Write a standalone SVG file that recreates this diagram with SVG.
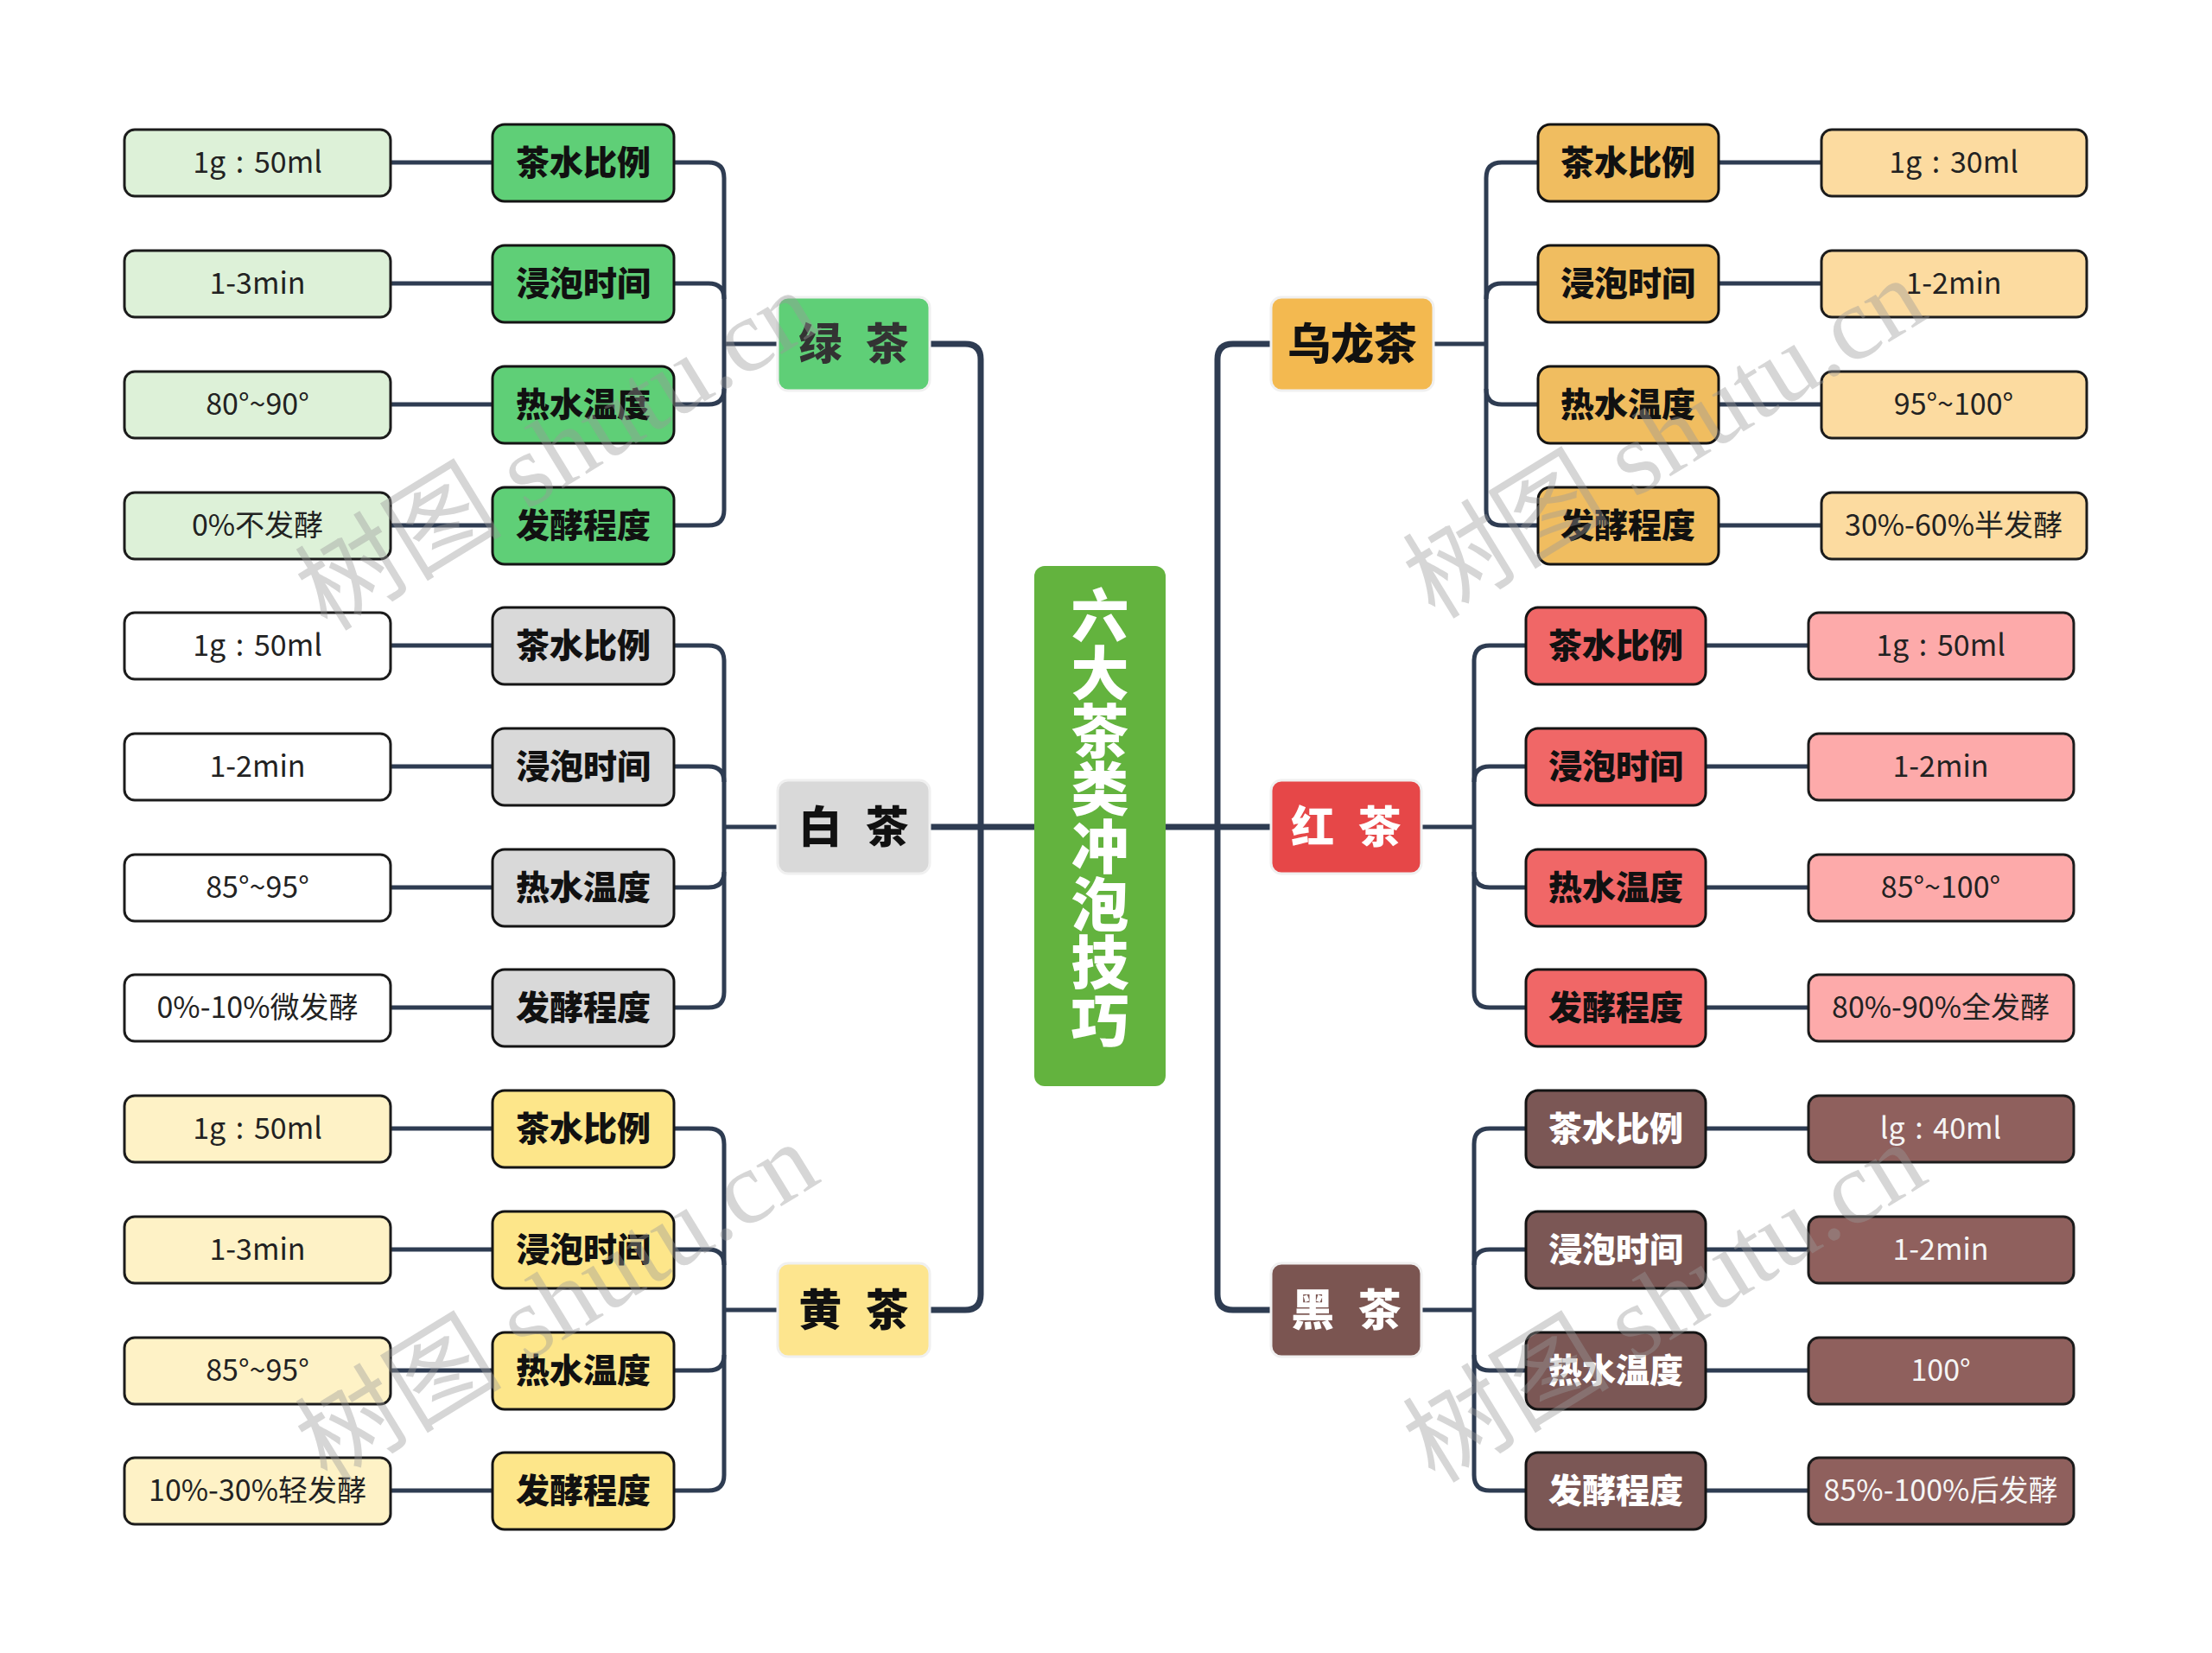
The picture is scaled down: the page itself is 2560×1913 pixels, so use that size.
<svg xmlns="http://www.w3.org/2000/svg" width="2560" height="1913" viewBox="0 0 2560 1913">
<style>
text{font-family:"Noto Sans CJK SC","Noto Sans",sans-serif;text-anchor:middle}
.cn path{fill:none;stroke:#2e3c52;stroke-width:5}
.cn path.tk{stroke-width:7}
.leaf{stroke:#1c1c1c;stroke-width:3}
.cat{stroke:#141414;stroke-width:3}
.grp{stroke:#f0f0f0;stroke-width:3}
.lt{font-size:34px;fill:#222;word-spacing:4px}
.ct{font-size:39px;font-weight:900;fill:#111}
.gt{font-size:50px;font-weight:900;fill:#111}
.wm{font-family:"Liberation Serif","Noto Sans CJK SC",serif;font-size:120px;fill:#9a9a9a;opacity:0.4}
</style>
<rect width="2560" height="1913" fill="#ffffff"/>
<g class="cn" id="connectors">
<path class="tk" d="M1076 398 H1117 Q1135 398 1135 416 V1498 Q1135 1516 1117 1516 H1076"/>
<path class="tk" d="M1076 957 H1197"/>
<path class="tk" d="M1471 398 H1427 Q1409 398 1409 416 V1498 Q1409 1516 1427 1516 H1471"/>
<path class="tk" d="M1349 957 H1471"/>
<path d="M780 188 H820 Q838 188 838 206 V590 Q838 608 820 608 H780"/>
<path d="M780 328 H820 Q838 328 838 346"/>
<path d="M780 468 H820 Q838 468 838 450"/>
<path d="M838 398 H900"/>
<path d="M780 747 H820 Q838 747 838 765 V1148 Q838 1166 820 1166 H780"/>
<path d="M780 887 H820 Q838 887 838 905"/>
<path d="M780 1027 H820 Q838 1027 838 1009"/>
<path d="M838 957 H900"/>
<path d="M780 1306 H820 Q838 1306 838 1324 V1707 Q838 1725 820 1725 H780"/>
<path d="M780 1446 H820 Q838 1446 838 1464"/>
<path d="M780 1586 H820 Q838 1586 838 1568"/>
<path d="M838 1516 H900"/>
<path d="M1780 188 H1738 Q1720 188 1720 206 V590 Q1720 608 1738 608 H1780"/>
<path d="M1780 328 H1738 Q1720 328 1720 346"/>
<path d="M1780 468 H1738 Q1720 468 1720 450"/>
<path d="M1659 398 H1720"/>
<path d="M1766 747 H1724 Q1706 747 1706 765 V1148 Q1706 1166 1724 1166 H1766"/>
<path d="M1766 887 H1724 Q1706 887 1706 905"/>
<path d="M1766 1027 H1724 Q1706 1027 1706 1009"/>
<path d="M1645 957 H1706"/>
<path d="M1766 1306 H1724 Q1706 1306 1706 1324 V1707 Q1706 1725 1724 1725 H1766"/>
<path d="M1766 1446 H1724 Q1706 1446 1706 1464"/>
<path d="M1766 1586 H1724 Q1706 1586 1706 1568"/>
<path d="M1645 1516 H1706"/>
<path d="M452 188 H570 M452 328 H570 M452 468 H570 M452 608 H570 M452 747 H570 M452 887 H570 M452 1027 H570 M452 1166 H570 M452 1306 H570 M452 1446 H570 M452 1586 H570 M452 1725 H570"/>
<path d="M1989 188 H2108 M1989 328 H2108 M1989 468 H2108 M1989 608 H2108"/>
<path d="M1974 747 H2093 M1974 887 H2093 M1974 1027 H2093 M1974 1166 H2093 M1974 1306 H2093 M1974 1446 H2093 M1974 1586 H2093 M1974 1725 H2093"/>
</g>
<g id="root">
<rect x="1197" y="655" width="152" height="602" rx="12" fill="#63b33e"/>
<text x="1273" y="946" font-size="67" font-weight="900" fill="#ffffff" writing-mode="vertical-rl" style="text-anchor:middle">六大茶类冲泡技巧</text>
</g>
<g id="g-green">
<rect class="grp" x="900" y="344" width="176" height="108" rx="12" fill="#5fcf77"/>
<text class="gt" x="988" y="416" style="fill:#333" word-spacing="16">绿 茶</text>
</g>
<g id="g-green-1"><rect class="cat" x="570" y="144" width="210" height="89" rx="14" fill="#5fcf77"/><text class="ct" x="675" y="202">茶水比例</text></g>
<g id="g-green-2"><rect class="cat" x="570" y="284" width="210" height="89" rx="14" fill="#5fcf77"/><text class="ct" x="675" y="342">浸泡时间</text></g>
<g id="g-green-3"><rect class="cat" x="570" y="424" width="210" height="89" rx="14" fill="#5fcf77"/><text class="ct" x="675" y="482">热水温度</text></g>
<g id="g-green-4"><rect class="cat" x="570" y="564" width="210" height="89" rx="14" fill="#5fcf77"/><text class="ct" x="675" y="622">发酵程度</text></g>
<g id="g-green-1v"><rect class="leaf" x="144" y="150" width="308" height="77" rx="12" fill="#ddf1d8"/><text class="lt" x="298" y="200">1g : 50ml</text></g>
<g id="g-green-2v"><rect class="leaf" x="144" y="290" width="308" height="77" rx="12" fill="#ddf1d8"/><text class="lt" x="298" y="340">1-3min</text></g>
<g id="g-green-3v"><rect class="leaf" x="144" y="430" width="308" height="77" rx="12" fill="#ddf1d8"/><text class="lt" x="298" y="480">80°~90°</text></g>
<g id="g-green-4v"><rect class="leaf" x="144" y="570" width="308" height="77" rx="12" fill="#ddf1d8"/><text class="lt" x="298" y="620">0%不发酵</text></g>

<g id="g-white">
<rect class="grp" x="900" y="903" width="176" height="108" rx="12" fill="#d9d9d9"/>
<text class="gt" x="988" y="975" word-spacing="16">白 茶</text>
</g>
<g id="g-white-1"><rect class="cat" x="570" y="703" width="210" height="89" rx="14" fill="#d9d9d9"/><text class="ct" x="675" y="761">茶水比例</text></g>
<g id="g-white-2"><rect class="cat" x="570" y="843" width="210" height="89" rx="14" fill="#d9d9d9"/><text class="ct" x="675" y="901">浸泡时间</text></g>
<g id="g-white-3"><rect class="cat" x="570" y="983" width="210" height="89" rx="14" fill="#d9d9d9"/><text class="ct" x="675" y="1041">热水温度</text></g>
<g id="g-white-4"><rect class="cat" x="570" y="1122" width="210" height="89" rx="14" fill="#d9d9d9"/><text class="ct" x="675" y="1180">发酵程度</text></g>
<g id="g-white-1v"><rect class="leaf" x="144" y="709" width="308" height="77" rx="12" fill="#ffffff"/><text class="lt" x="298" y="759">1g : 50ml</text></g>
<g id="g-white-2v"><rect class="leaf" x="144" y="849" width="308" height="77" rx="12" fill="#ffffff"/><text class="lt" x="298" y="899">1-2min</text></g>
<g id="g-white-3v"><rect class="leaf" x="144" y="989" width="308" height="77" rx="12" fill="#ffffff"/><text class="lt" x="298" y="1039">85°~95°</text></g>
<g id="g-white-4v"><rect class="leaf" x="144" y="1128" width="308" height="77" rx="12" fill="#ffffff"/><text class="lt" x="298" y="1178">0%-10%微发酵</text></g>

<g id="g-yellow">
<rect class="grp" x="900" y="1462" width="176" height="108" rx="12" fill="#fde58e"/>
<text class="gt" x="988" y="1534" word-spacing="16">黄 茶</text>
</g>
<g id="g-yellow-1"><rect class="cat" x="570" y="1262" width="210" height="89" rx="14" fill="#fde68a"/><text class="ct" x="675" y="1320">茶水比例</text></g>
<g id="g-yellow-2"><rect class="cat" x="570" y="1402" width="210" height="89" rx="14" fill="#fde68a"/><text class="ct" x="675" y="1460">浸泡时间</text></g>
<g id="g-yellow-3"><rect class="cat" x="570" y="1542" width="210" height="89" rx="14" fill="#fde68a"/><text class="ct" x="675" y="1600">热水温度</text></g>
<g id="g-yellow-4"><rect class="cat" x="570" y="1681" width="210" height="89" rx="14" fill="#fde68a"/><text class="ct" x="675" y="1739">发酵程度</text></g>
<g id="g-yellow-1v"><rect class="leaf" x="144" y="1268" width="308" height="77" rx="12" fill="#fef2c6"/><text class="lt" x="298" y="1318">1g : 50ml</text></g>
<g id="g-yellow-2v"><rect class="leaf" x="144" y="1408" width="308" height="77" rx="12" fill="#fef2c6"/><text class="lt" x="298" y="1458">1-3min</text></g>
<g id="g-yellow-3v"><rect class="leaf" x="144" y="1548" width="308" height="77" rx="12" fill="#fef2c6"/><text class="lt" x="298" y="1598">85°~95°</text></g>
<g id="g-yellow-4v"><rect class="leaf" x="144" y="1687" width="308" height="77" rx="12" fill="#fef2c6"/><text class="lt" x="298" y="1737">10%-30%轻发酵</text></g>

<g id="g-oolong">
<rect class="grp" x="1471" y="344" width="188" height="108" rx="12" fill="#f3b950"/>
<text class="gt" x="1565" y="416">乌龙茶</text>
</g>
<g id="g-oolong-1"><rect class="cat" x="1780" y="144" width="209" height="89" rx="14" fill="#f0bd60"/><text class="ct" x="1884" y="202">茶水比例</text></g>
<g id="g-oolong-2"><rect class="cat" x="1780" y="284" width="209" height="89" rx="14" fill="#f0bd60"/><text class="ct" x="1884" y="342">浸泡时间</text></g>
<g id="g-oolong-3"><rect class="cat" x="1780" y="424" width="209" height="89" rx="14" fill="#f0bd60"/><text class="ct" x="1884" y="482">热水温度</text></g>
<g id="g-oolong-4"><rect class="cat" x="1780" y="564" width="209" height="89" rx="14" fill="#f0bd60"/><text class="ct" x="1884" y="622">发酵程度</text></g>
<g id="g-oolong-1v"><rect class="leaf" x="2108" y="150" width="307" height="77" rx="12" fill="#fcdba0"/><text class="lt" x="2261" y="200">1g : 30ml</text></g>
<g id="g-oolong-2v"><rect class="leaf" x="2108" y="290" width="307" height="77" rx="12" fill="#fcdba0"/><text class="lt" x="2261" y="340">1-2min</text></g>
<g id="g-oolong-3v"><rect class="leaf" x="2108" y="430" width="307" height="77" rx="12" fill="#fcdba0"/><text class="lt" x="2261" y="480">95°~100°</text></g>
<g id="g-oolong-4v"><rect class="leaf" x="2108" y="570" width="307" height="77" rx="12" fill="#fcdba0"/><text class="lt" x="2261" y="620">30%-60%半发酵</text></g>

<g id="g-red">
<rect class="grp" x="1471" y="903" width="174" height="108" rx="12" fill="#e64748"/>
<text class="gt" x="1558" y="975" word-spacing="16" style="fill:#ffffff">红 茶</text>
</g>
<g id="g-red-1"><rect class="cat" x="1766" y="703" width="208" height="89" rx="14" fill="#f06767"/><text class="ct" x="1870" y="761">茶水比例</text></g>
<g id="g-red-2"><rect class="cat" x="1766" y="843" width="208" height="89" rx="14" fill="#f06767"/><text class="ct" x="1870" y="901">浸泡时间</text></g>
<g id="g-red-3"><rect class="cat" x="1766" y="983" width="208" height="89" rx="14" fill="#f06767"/><text class="ct" x="1870" y="1041">热水温度</text></g>
<g id="g-red-4"><rect class="cat" x="1766" y="1122" width="208" height="89" rx="14" fill="#f06767"/><text class="ct" x="1870" y="1180">发酵程度</text></g>
<g id="g-red-1v"><rect class="leaf" x="2093" y="709" width="307" height="77" rx="12" fill="#fdaaaa"/><text class="lt" x="2246" y="759">1g : 50ml</text></g>
<g id="g-red-2v"><rect class="leaf" x="2093" y="849" width="307" height="77" rx="12" fill="#fdaaaa"/><text class="lt" x="2246" y="899">1-2min</text></g>
<g id="g-red-3v"><rect class="leaf" x="2093" y="989" width="307" height="77" rx="12" fill="#fdaaaa"/><text class="lt" x="2246" y="1039">85°~100°</text></g>
<g id="g-red-4v"><rect class="leaf" x="2093" y="1128" width="307" height="77" rx="12" fill="#fdaaaa"/><text class="lt" x="2246" y="1178">80%-90%全发酵</text></g>

<g id="g-dark">
<rect class="grp" x="1471" y="1462" width="174" height="108" rx="12" fill="#7b5551"/>
<text class="gt" x="1558" y="1534" word-spacing="16" style="fill:#ffffff">黑 茶</text>
</g>
<g id="g-dark-1"><rect class="cat" x="1766" y="1262" width="208" height="89" rx="14" fill="#7b5755"/><text class="ct" x="1870" y="1320" style="fill:#ffffff">茶水比例</text></g>
<g id="g-dark-2"><rect class="cat" x="1766" y="1402" width="208" height="89" rx="14" fill="#7b5755"/><text class="ct" x="1870" y="1460" style="fill:#ffffff">浸泡时间</text></g>
<g id="g-dark-3"><rect class="cat" x="1766" y="1542" width="208" height="89" rx="14" fill="#7b5755"/><text class="ct" x="1870" y="1600" style="fill:#ffffff">热水温度</text></g>
<g id="g-dark-4"><rect class="cat" x="1766" y="1681" width="208" height="89" rx="14" fill="#7b5755"/><text class="ct" x="1870" y="1739" style="fill:#ffffff">发酵程度</text></g>
<g id="g-dark-1v"><rect class="leaf" x="2093" y="1268" width="307" height="77" rx="12" fill="#8f605d"/><text class="lt" x="2246" y="1318" style="fill:#f5f5f5">lg : 40ml</text></g>
<g id="g-dark-2v"><rect class="leaf" x="2093" y="1408" width="307" height="77" rx="12" fill="#8f605d"/><text class="lt" x="2246" y="1458" style="fill:#f5f5f5">1-2min</text></g>
<g id="g-dark-3v"><rect class="leaf" x="2093" y="1548" width="307" height="77" rx="12" fill="#8f605d"/><text class="lt" x="2246" y="1598" style="fill:#f5f5f5">100°</text></g>
<g id="g-dark-4v"><rect class="leaf" x="2093" y="1687" width="307" height="77" rx="12" fill="#8f605d"/><text class="lt" x="2246" y="1737" style="fill:#f5f5f5">85%-100%后发酵</text></g>

<g id="watermarks">
<text class="wm" transform="translate(645 522) rotate(-31.5)" y="40">树图 shutu.cn</text>
<text class="wm" transform="translate(1927 508) rotate(-31.5)" y="40">树图 shutu.cn</text>
<text class="wm" transform="translate(645 1508) rotate(-31.5)" y="40">树图 shutu.cn</text>
<text class="wm" transform="translate(1927 1508) rotate(-31.5)" y="40">树图 shutu.cn</text>
</g>
</svg>
